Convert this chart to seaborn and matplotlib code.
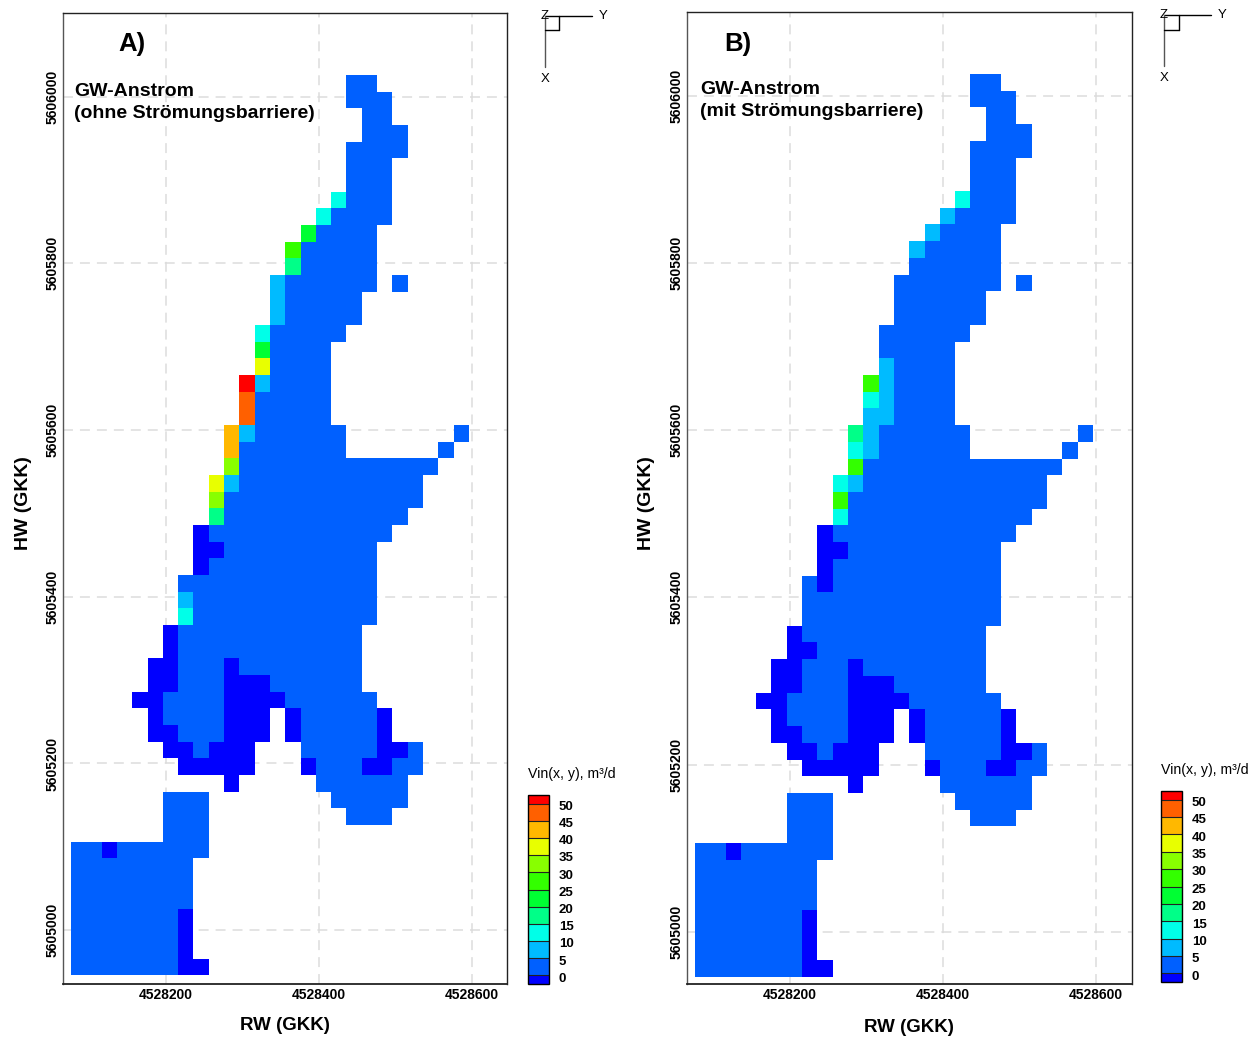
import matplotlib

matplotlib.use("Agg")
import matplotlib.pyplot as plt
import numpy as np
import seaborn as sns
from matplotlib.colors import BoundaryNorm, ListedColormap
from matplotlib.lines import Line2D
from matplotlib.transforms import ScaledTranslation

W, H = 1260, 1038

# cell codes: . = no cell, 0 = below 0, 1 = 0-5, 2 = 5-10 ... a = 45-50, b = above 50
cells_a = [
    "..................11......",
    "..................111.....",
    "...................11.....",
    "...................111....",
    "..................1111....",
    "..................111.....",
    "..................111.....",
    ".................3111.....",
    "................31111.....",
    "...............51111......",
    "..............611111......",
    "..............411111......",
    ".............2111111.1....",
    ".............211111.......",
    ".............211111.......",
    "............311111........",
    "............51111.........",
    "............81111.........",
    "...........b21111.........",
    "...........a11111.........",
    "...........a11111.........",
    "..........92111111.......1",
    "..........91111111......1.",
    "..........71111111111111..",
    ".........82111111111111...",
    ".........71111111111111...",
    ".........4111111111111....",
    "........0111111111111.....",
    "........001111111111......",
    "........011111111111......",
    ".......1111111111111......",
    ".......2111111111111......",
    ".......3111111111111......",
    "......0111111111111.......",
    "......0111111111111.......",
    ".....00111011111111.......",
    ".....00111000111111.......",
    "....0011110000111111......",
    ".....01111000.0111110.....",
    ".....00111000.0111110.....",
    "......001000...11111001...",
    ".......00000...01110011...",
    "..........0.....111111....",
    "......111........11111....",
    "......111.........111.....",
    "......111.................",
    "110111111.................",
    "11111111..................",
    "11111111..................",
    "11111111..................",
    "11111110..................",
    "11111110..................",
    "11111110..................",
    "111111100.................",
]
cells_b = [
    "..................11......",
    "..................111.....",
    "...................11.....",
    "...................111....",
    "..................1111....",
    "..................111.....",
    "..................111.....",
    ".................3111.....",
    "................21111.....",
    "...............21111......",
    "..............211111......",
    "..............111111......",
    ".............1111111.1....",
    ".............111111.......",
    ".............111111.......",
    "............111111........",
    "............11111.........",
    "............21111.........",
    "...........621111.........",
    "...........321111.........",
    "...........221111.........",
    "..........42111111.......1",
    "..........32111111......1.",
    "..........61111111111111..",
    ".........32111111111111...",
    ".........61111111111111...",
    ".........3111111111111....",
    "........0111111111111.....",
    "........001111111111......",
    "........011111111111......",
    ".......1011111111111......",
    ".......1111111111111......",
    ".......1111111111111......",
    "......0111111111111.......",
    "......0011111111111.......",
] + cells_a[35:]

code_values = {".": np.nan, "0": -1, "1": 2.5, "2": 7.5, "3": 12.5, "4": 17.5, "5": 22.5,
               "6": 27.5, "7": 32.5, "8": 37.5, "9": 42.5, "a": 47.5, "b": 51}
levels = [-2.5, 0, 5, 10, 15, 20, 25, 30, 35, 40, 45, 50, 52.5]
level_ticks = [0, 5, 10, 15, 20, 25, 30, 35, 40, 45, 50]
level_colors = ["#0000ff", "#0060ff", "#00bbff", "#00ffe8", "#00ff88", "#00ff33",
                "#33ff00", "#88ff00", "#e8ff00", "#ffb800", "#ff6000", "#ff0000"]
x_ticks = [4528200, 4528400, 4528600]
y_ticks = [5605000, 5605200, 5605400, 5605600, 5605800, 5606000]
x_left = 4528076
y_top = 5606026
cell = 20

sns.set_style("white")
plt.rcParams["font.family"] = ["Liberation Sans", "DejaVu Sans"]
plt.rcParams["text.color"] = "black"
plt.rcParams["xtick.color"] = "black"
plt.rcParams["ytick.color"] = "black"

cmap = ListedColormap(level_colors)
norm = BoundaryNorm(levels, cmap.N)

fig = plt.figure(figsize=(W / 100, H / 100), dpi=100)


def fx(px):
    return px / W


def fy(px):
    return 1 - px / H


def px_axes(left, top, right, bottom):
    return fig.add_axes([fx(left), fy(bottom), fx(right - left), (bottom - top) / H])


def draw_panel(cells, box, col0, row0, row_h, bar_box):
    left, top, right, bottom = box
    ax = px_axes(left, top, right, bottom)
    cax = px_axes(*bar_box)
    grid = np.array([[code_values[c] for c in row] for row in cells])
    sns.heatmap(grid, ax=ax, cmap=cmap, norm=norm, cbar_ax=cax,
                xticklabels=False, yticklabels=False,
                cbar_kws={"ticks": level_ticks, "spacing": "proportional", "drawedges": True})
    ax.set_xlim((left - col0) / 15.3, (right - col0) / 15.3)
    ax.set_ylim((bottom - row0) / row_h, (top - row0) / row_h)
    ax.set_xticks([(v - x_left) / cell for v in x_ticks])
    ax.set_xticklabels(x_ticks, fontsize=10, fontweight="bold")
    ax.set_yticks([(y_top - v) / cell for v in y_ticks])
    ax.set_yticklabels(y_ticks, fontsize=10, fontweight="bold", rotation=90, va="center")
    ax.tick_params(axis="x", which="both", length=0, pad=3)
    ax.tick_params(axis="y", which="both", length=0, pad=2.6)
    ax.set_axisbelow(True)
    ax.grid(True, color="#dcdcdc", lw=1.1, linestyle=(0, (6.5, 4.6)))
    for s in ax.spines.values():
        s.set_visible(True)
        s.set_color("#222222")
        s.set_linewidth(1.0)
    ax.spines["left"].set_color("#555555")
    ax.spines["bottom"].set_linewidth(1.3)

    cb = ax.collections[0].colorbar
    cb.outline.set_visible(True)
    cb.outline.set_edgecolor("black")
    cb.outline.set_linewidth(1.0)
    cb.dividers.set_color("#222222")
    cb.dividers.set_linewidth(0.8)
    cb.minorticks_off()
    cax.tick_params(which="both", length=0, pad=7)
    for lab in cax.get_yticklabels():
        lab.set_fontsize(9.5)
        lab.set_fontweight("bold")
        lab.set_color("black")
        lab.set_transform(lab.get_transform() + ScaledTranslation(0, -1.3 / 72, fig.dpi_scale_trans))


def axis_icon(x0, y0, sq, x_end, y_end):
    for xs, ys, c in [
        ([x0, x_end], [y0, y0], "black"),
        ([x0, x0], [y0, y_end], "#555555"),
        ([x0 + sq, x0 + sq], [y0, y0 + sq], "black"),
        ([x0, x0 + sq], [y0 + sq, y0 + sq], "black"),
    ]:
        fig.add_artist(Line2D([fx(v) for v in xs], [fy(v) for v in ys], color=c, lw=1.0))
    fig.text(fx(x0), fy(y0), "Z", fontsize=9.5, ha="center", va="center")
    fig.text(fx(x_end + 11), fy(y0), "Y", fontsize=9.5, ha="center", va="center")
    fig.text(fx(x0 + 0.5), fy(y_end + 12), "X", fontsize=9.5, ha="center", va="center")


def label(x, y, s, **kw):
    fig.text(fx(x), fy(y), s, va="center", **kw)


draw_panel(cells_a, (63, 13, 507, 984), 71, 75, 16.67, (528, 795, 549, 984))
draw_panel(cells_b, (687, 12, 1132, 984), 695, 74, 16.72, (1161, 791, 1182, 982))

axis_icon(545, 16, 14, 592, 67)
axis_icon(1164, 15, 15, 1211, 66)

label(118, 44, "A)", fontsize=18.5, fontweight="bold", ha="left")
label(724, 44, "B)", fontsize=18.5, fontweight="bold", ha="left")
label(74, 92, "GW-Anstrom", fontsize=14, fontweight="bold", ha="left")
label(74, 113, "(ohne Strömungsbarriere)", fontsize=14, fontweight="bold", ha="left")
label(700, 90, "GW-Anstrom", fontsize=14, fontweight="bold", ha="left")
label(700, 111, "(mit Strömungsbarriere)", fontsize=14, fontweight="bold", ha="left")
label(284.5, 1026, "RW (GKK)", fontsize=13.5, fontweight="bold", ha="center")
label(909, 1027, "RW (GKK)", fontsize=13.5, fontweight="bold", ha="center")
label(24, 503, "HW (GKK)", fontsize=14, fontweight="bold", ha="center", rotation=90)
label(647, 503, "HW (GKK)", fontsize=14, fontweight="bold", ha="center", rotation=90)
label(528, 774, "Vin(x, y), m³/d", fontsize=10.2, ha="left")
label(1161, 770, "Vin(x, y), m³/d", fontsize=10.2, ha="left")

fig.savefig("out.png", dpi=100)
